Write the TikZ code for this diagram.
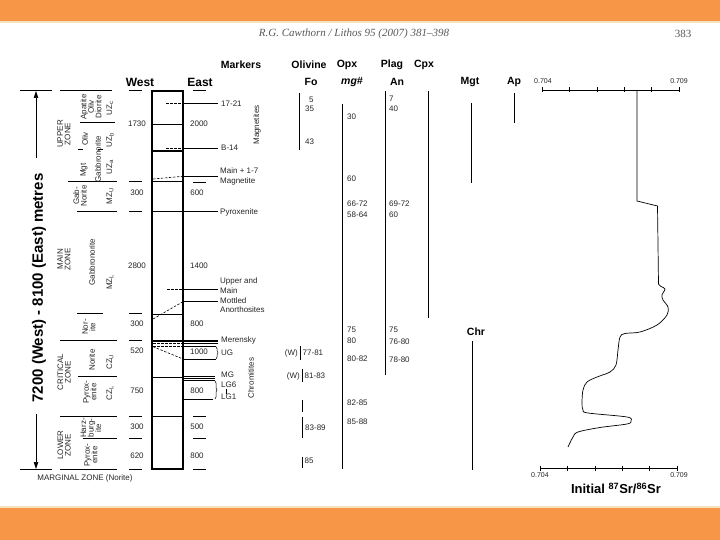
\documentclass[tikz,border=0pt]{standalone}
\usepackage{fontspec}
\setmainfont{Liberation Sans}
\setsansfont{Liberation Sans}
\newfontfamily\hdrserif{Liberation Serif}
\usetikzlibrary{arrows.meta,decorations.pathreplacing}
\definecolor{orangebar}{HTML}{F79646}
\definecolor{paleline}{HTML}{F4E3BF}
\begin{document}
\begin{tikzpicture}[x=1pt,y=-1pt,
  lab/.style={font=\fontsize{8}{8.5}\selectfont, inner sep=0pt, text=black!85},
  rlab/.style={lab, rotate=90, align=center, font=\fontsize{8}{7.5}\selectfont},
  hdr/.style={font=\fontsize{10.5}{11}\selectfont\bfseries, inner sep=0pt},
  hdrbig/.style={font=\fontsize{12}{12}\selectfont\bfseries, inner sep=0pt},
  ln/.style={line width=0.6pt},
  thk/.style={line width=1.3pt},
  dsh/.style={line width=0.6pt, dash pattern=on 2.5pt off 1.5pt},
  brc/.style={line width=0.5pt, decorate, decoration={brace, amplitude=2pt}},
]
\useasboundingbox (0,0) rectangle (720,540);
\fill[white] (0,0) rectangle (720,540);
\fill[orangebar] (0,0) rectangle (720,21);
\fill[orangebar] (0,508) rectangle (720,540);
\draw[paleline, line width=1.5pt] (0,22) -- (720,22);
\draw[paleline, line width=1.5pt] (0,507) -- (720,507);

% page header
\node[font=\hdrserif\itshape\fontsize{11}{12}\selectfont, text=black!65] (cite) at (354,34) {R.G. Cawthorn / Lithos 95 (2007) 381–398};
\node[font=\hdrserif\fontsize{11}{12}\selectfont, text=black!65] (page) at (683,34) {383};

% column headers
\node[hdr] (hmark) at (241,65) {Markers};
\node[hdr] (holiv) at (309,65) {Olivine};
\node[hdr] (hopx) at (347,65) {Opx};
\node[hdr] (hplag) at (392,65) {Plag};
\node[hdr] (hcpx) at (424,65) {Cpx};
\node[hdr] (hfo) at (311,82) {Fo};
\node[hdr] (hmg) at (352,82) {\itshape mg\#};
\node[hdr] (han) at (397,82) {An};
\node[hdr] (hmgt) at (470,82) {Mgt};
\node[hdr] (hap) at (514,82) {Ap};
\node[hdrbig] (hwest) at (140,82) {West};
\node[hdrbig] (heast) at (200,82) {East};

% vertical arrow and label
\coordinate (atop) at (36,91);
\coordinate (atopend) at (36,158);
\coordinate (abot) at (36,469);
\coordinate (abotend) at (36,414);
\draw[ln] (20,90.7) -- (52,90.7);
\draw[ln] (20,469) -- (52,469);
\draw[ln,-{Triangle[length=7pt,width=4.5pt]}] (atopend) -- (atop);
\draw[ln,-{Triangle[length=7pt,width=4.5pt]}] (abotend) -- (abot);
\node[rotate=90, font=\fontsize{15}{15}\selectfont\bfseries, inner sep=0pt] (vlabel) at (39,288) {7200 (West) - 8100 (East) metres};

% zone divisions
\draw[ln] (60,90.7) -- (112,90.7);
\draw[thk] (80,122.7) -- (115,122.7);
\draw[ln] (78,149) -- (83,149);
\draw[ln] (98,149) -- (103,149);
\draw[ln] (68,181.7) -- (117,181.7);
\draw[ln] (77,211.7) -- (117,211.7);
\draw[ln] (77,313) -- (103,313);
\draw[ln] (60,340.7) -- (117,340.7);
\draw[ln] (78,376.5) -- (117,376.5);
\draw[ln] (60,416.7) -- (117,416.7);
\draw[ln] (83,438) -- (117,438);
\draw[ln] (60,469) -- (117,469);

% zone labels
\node[rlab] (zupper) at (64,134) {UPPER\\ZONE};
\node[rlab] (zmain) at (64,259) {MAIN\\ZONE};
\node[rlab] (zcrit) at (64,372) {CRITICAL\\ZONE};
\node[rlab] (zlower) at (64,445) {LOWER\\ZONE};
\node[rlab] (rapod) at (91,107) {Apatite\\Oliv\\Diorite};
\node[rlab] (roliv) at (85,139) {Oliv};
\node[rlab] (rmgt) at (84,170) {Mgt};
\node[rlab] (rgabu) at (98,159) {Gabbronorite};
\node[rlab] (rgabn) at (80,196) {Gab-\\Norite};
\node[rlab] (rgabm) at (92,262) {Gabbronorite};
\node[rlab] (rnorm) at (89,327) {Nor-\\ite};
\node[rlab] (rnorc) at (92,360) {Norite};
\node[rlab] (rpyxc) at (90,392) {Pyrox-\\enite};
\node[rlab] (rharz) at (91,428) {Harz-\\burg-\\ite};
\node[rlab] (rpyxl) at (91,455) {Pyrox-\\enite};
\node[rlab] (uzc) at (110,108) {UZ\textsubscript{c}};
\node[rlab] (uzb) at (110,140) {UZ\textsubscript{b}};
\node[rlab] (uza) at (110,167) {UZ\textsubscript{a}};
\node[rlab] (mzu) at (110,196) {MZ\textsubscript{U}};
\node[rlab] (mzl) at (110,282) {MZ\textsubscript{L}};
\node[rlab] (czu) at (110,362) {CZ\textsubscript{U}};
\node[rlab] (czl) at (110,393) {CZ\textsubscript{L}};
\node[lab] (marg) at (85,478) {MARGINAL ZONE (Norite)};

% West / East small dashes
\foreach \yy in {90.7,181.7,211.7,313,340.7,416.7,438,469}{\draw[ln] (129,\yy) -- (142,\yy);}
\foreach \yy in {90.7,182.5,416.7,438,469}{\draw[ln] (193,\yy) -- (206,\yy);}

% West / East thicknesses
\node[lab] (w1) at (137,124) {1730};
\node[lab] (w2) at (137,193) {300};
\node[lab] (w3) at (137,266) {2800};
\node[lab] (w4) at (137,324) {300};
\node[lab] (w5) at (137,351) {520};
\node[lab] (w6) at (137,391) {750};
\node[lab] (w7) at (137,427) {300};
\node[lab] (w8) at (137,456) {620};
\node[lab] (e1) at (199,124) {2000};
\node[lab] (e2) at (197,193) {600};
\node[lab] (e3) at (199,266) {1400};
\node[lab] (e4) at (197,324) {800};
\node[lab] (e5) at (199,352) {1000};
\node[lab] (e6) at (197,391) {800};
\node[lab] (e7) at (197,427) {500};
\node[lab] (e8) at (197,456) {800};

% stratigraphic column
\draw[line width=1.1pt] (152,90.7) rectangle (183,469);
\draw[line width=1.7pt] (152,90.7) -- (152,469);
\draw[line width=1.7pt] (152,90.7) -- (183,90.7);
\draw[line width=1.7pt] (152,469) -- (183,469);
% markers
\draw[dsh] (166,103.3) -- (183,103.3);
\draw[ln] (183,103.3) -- (218,103.3);
\node[lab, anchor=west] (m1721) at (221,103.3) {17-21};
\draw[ln] (152,124) -- (183,124);
\draw[dsh] (166,148) -- (183,148);
\draw[ln] (183,148) -- (218,148);
\node[lab, anchor=west] (mb14) at (221,148) {B-14};
\draw[thk] (152,151) -- (183,151);
\draw[dsh] (153,179) -- (183,176.3);
\draw[ln] (183,176.3) -- (218,176.3);
\node[lab, anchor=west, align=left, font=\fontsize{8}{10}\selectfont] (mmain) at (220,176.5) {Main + 1-7\\Magnetite};
\draw[thk] (152,181.7) -- (183,181.7);
\draw[ln] (152,211.7) -- (218,211.7);
\node[lab, anchor=west] (mpyx) at (220,212) {Pyroxenite};
\draw[dsh] (167,289) -- (183,289);
\draw[ln] (183,289) -- (218,289);
\node[lab, anchor=west, align=left, font=\fontsize{8}{9.5}\selectfont] (mupm) at (220,285.5) {Upper and\\Main};
\draw[ln] (183,301) -- (218,301);
\draw[dsh] (183,301.7) -- (153,319);
\node[lab, anchor=west, align=left, font=\fontsize{8}{9.5}\selectfont] (mmott) at (220,305) {Mottled\\Anorthosites};
\draw[ln] (152,314) -- (183,314);
\draw[thk] (152,341) -- (218,341);
\draw[ln] (183,343.2) -- (218,343.2);
\draw[dsh] (153,343.5) -- (183,343.5);
\draw[dsh] (153,345.8) -- (183,345.8);
\node[lab, anchor=west] (mmer) at (221,340) {Merensky};
\draw[ln] (183,346.7) -- (216,346.7);
\draw[ln] (183,359) -- (216,359);
\draw[dsh] (153,346.7) -- (183,359);
\draw[brc] (216,346.7) -- (216,359);
\node[lab, anchor=west] (mug) at (221,352.8) {UG};
\draw[ln] (152,377) -- (183,377);
\draw[ln] (183,376) -- (215,376);
\draw[ln] (183,378) -- (215,378);
\draw[ln] (183,380) -- (215,380);
\node[lab, anchor=west] (mmg) at (221,375) {MG};
\draw[ln] (183,399) -- (213,399);
\draw[brc] (215,381) -- (215,399);
\node[lab, anchor=west] (mlg6) at (221,385) {LG6};
\node[lab, anchor=west] (mlg1) at (221,397) {LG1};
\draw[line width=0.4pt] (226.5,388.5) -- (226.5,393.5);
\draw[thk] (152,416.7) -- (183,416.7);
\node[rlab] (magn) at (257,125) {Magnetites};
\node[rlab] (chrom) at (251,378) {Chromitites};

% Olivine Fo
\draw[ln] (299,93) -- (299,150);
\node[lab, anchor=west] (fo5) at (309,99.5) {5};
\node[lab, anchor=west] (fo35) at (305,109) {35};
\node[lab, anchor=west] (fo43) at (305,142) {43};
\node[lab, anchor=east] (fow1) at (298,353) {(W)};
\draw[ln] (300,346) -- (300,360);
\node[lab, anchor=west] (fo7781) at (302.5,353) {77-81};
\node[lab, anchor=east] (fow2) at (300,376) {(W)};
\draw[ln] (302,369) -- (302,382);
\node[lab, anchor=west] (fo8183) at (304.5,376) {81-83};
\draw[ln] (302,400) -- (302,412);
\draw[ln] (302,417) -- (302,438);
\node[lab, anchor=west] (fo8389) at (305,428) {83-89};
\draw[ln] (302,457) -- (302,468);
\node[lab, anchor=west] (fo85) at (304.5,461) {85};

% Opx mg#
\draw[ln] (342.5,104) -- (342.5,469);
\node[lab, anchor=west] (mg30) at (347,117) {30};
\node[lab, anchor=west] (mg60) at (347,179) {60};
\node[lab, anchor=west] (mg6672) at (347,204) {66-72};
\node[lab, anchor=west] (mg5864) at (347,215) {58-64};
\node[lab, anchor=west] (mg75) at (347,330) {75};
\node[lab, anchor=west] (mg80) at (347,340.7) {80};
\node[lab, anchor=west] (mg8082) at (347,359) {80-82};
\node[lab, anchor=west] (mg8285) at (347,402.7) {82-85};
\node[lab, anchor=west] (mg8588) at (347,421.7) {85-88};

% Plag An
\draw[ln] (385,91) -- (385,375);
\node[lab, anchor=west] (an7) at (389,99) {7};
\node[lab, anchor=west] (an40) at (389,109) {40};
\node[lab, anchor=west] (an6972) at (389,204) {69-72};
\node[lab, anchor=west] (an60) at (389,215) {60};
\node[lab, anchor=west] (an75) at (389,330) {75};
\node[lab, anchor=west] (an7680) at (389,342) {76-80};
\node[lab, anchor=west] (an7880) at (389,360) {78-80};

% Cpx, Mgt, Ap, Chr
\draw[ln] (428,91) -- (428,318);
\draw[ln] (471,103) -- (471,183);
\draw[ln] (514,93) -- (514,123);
\node[hdr] (hchr) at (476,332) {Chr};
\draw[ln] (472,341) -- (472,470);

% Sr isotope axes
\draw[ln] (542,90) -- (679,90);
\foreach \xx in {542,569.4,596.8,624.2,651.6,679}{\draw[ln] (\xx,87.5) -- (\xx,92.5);}
\node[lab, font=\fontsize{7}{7}\selectfont] (t704) at (543,81.5) {0.704};
\node[lab, font=\fontsize{7}{7}\selectfont] (t709) at (679,81.5) {0.709};
\draw[ln] (540,468) -- (677,468);
\foreach \xx in {540,567.4,594.8,622.2,649.6,677}{\draw[ln] (\xx,465.5) -- (\xx,470.5);}
\node[lab, font=\fontsize{7}{7}\selectfont] (b704) at (540,475.5) {0.704};
\node[lab, font=\fontsize{7}{7}\selectfont] (b709) at (679,475.5) {0.709};
\node[font=\fontsize{13}{13}\selectfont\bfseries, inner sep=0pt] (srlab) at (616,488.5) {Initial \textsuperscript{87}Sr/\textsuperscript{86}Sr};

% Sr curve
\draw[line width=0.7pt] (637,90) -- (637,201) -- (657.5,206) -- (658.5,284);
\draw[line width=0.7pt] plot[smooth, tension=0.55] coordinates {
 (658.5,284) (661,286.5) (665,289) (662,295) (663,300) (668,307) (667,315)
 (657,325) (640,332) (625,333.5) (620,337) (618,350) (616,365) (610,372)
 (597,377) (587,382) (583,390) (582,403) (583,410) (588,413) (627,417)
 (631,421) (627,424) (600,427.5) (578,432) (573,437) (568,447)};
\end{tikzpicture}
\end{document}
